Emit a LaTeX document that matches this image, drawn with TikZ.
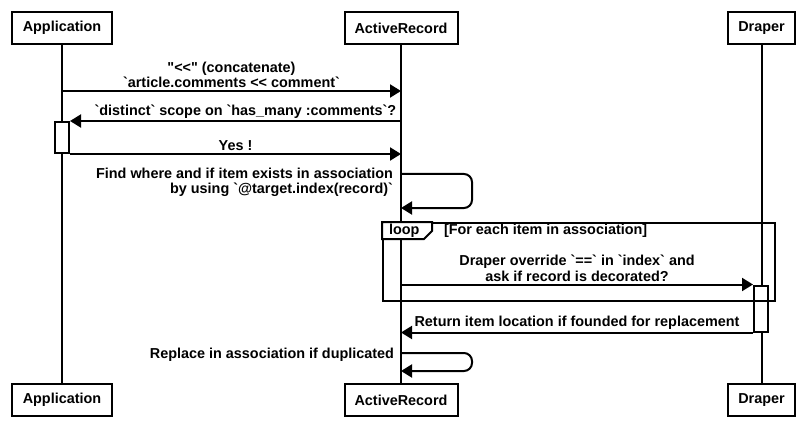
\documentclass[tikz,border=0pt]{standalone}
\usepackage{fontspec}
\newfontfamily\umlfont{Liberation Sans}
\usetikzlibrary{arrows.meta,calc,positioning}

\begin{document}
\begin{tikzpicture}[x=1pt,y=-1pt,line width=2pt,
    font=\umlfont\bfseries\fontsize{14.4}{15.5}\selectfont,
    actor/.style={draw,minimum height=32pt,inner sep=0pt},
    activ/.style={draw,fill=white,minimum width=14pt,inner sep=0pt},
    msg/.style={-{Triangle[length=11pt,width=13pt]}},
    lbl/.style={above,inner sep=2pt,align=center}]
    \useasboundingbox (0,0) rectangle (808,422);

    % participants
    \node[actor,minimum width=100pt] (app) at (62,28) {Application};
    \node[actor,minimum width=113pt] (ar) at (401,28) {ActiveRecord};
    \node[actor,minimum width=67pt] (dr) at (761.5,28) {Draper};
    \node[actor,minimum width=100pt] (appB) at (62,400) {Application};
    \node[actor,minimum width=113pt] (arB) at (401,400) {ActiveRecord};
    \node[actor,minimum width=67pt] (drB) at (761.5,400) {Draper};

    \draw (app) -- (appB);
    \draw (ar) -- (arB);
    \draw (dr) -- (drB);

    % activations
    \node[activ,minimum height=31pt] (appAct) at (62,137.5) {};
    \node[activ,minimum height=46pt] (drAct) at (761,308.5) {};

    % loop frame
    \node[draw,minimum width=392pt,minimum height=78pt,inner sep=0pt,anchor=north west] (loop) at (382,222) {};
    \filldraw[fill=white] (loop.north west) -- ++(50,0) -- ++(0,9) -- ++(-8,8) -- ++(-42,0) -- cycle;
    \node[anchor=west,inner sep=0pt] (looptag) at ($(loop.north west)+(6,9)$) {loop};
    \node[anchor=west,inner sep=0pt] (guard) at ($(loop.north west)+(61,9)$) {[For each item in association]};

    % message rows
    \coordinate (y1) at (0,91);
    \coordinate (s1t) at (0,174);
    \coordinate (s1b) at (0,208);
    \coordinate (s2t) at (0,353);
    \coordinate (s2b) at (0,371);

    \draw[msg] (app |- y1) -- node[lbl] {"<<" (concatenate)\\`article.comments << comment`} (ar |- y1);
    \draw[msg] (ar |- appAct.north) -- node[lbl,pos=0.47] {`distinct` scope on `has\_many :comments`?} (appAct.north east);
    \draw[msg] (appAct.south east) -- node[lbl] {Yes !} (ar |- appAct.south);

    \draw[msg,rounded corners=8pt] (ar |- s1t) -- ++(71,0) |- (ar |- s1b);
    \node[anchor=north east,inner sep=0pt,align=right] (find) at ($(ar |- s1t)+(-7,-7)$) {Find where and if item exists in association\\by using `@target.index(record)`};

    \draw[msg] (ar |- drAct.north) -- node[lbl] {Draper override `==` in `index` and\\ask if record is decorated?} (drAct.north west);
    \draw[msg] (drAct.south west) -- node[lbl] {Return item location if founded for replacement} (ar |- drAct.south);

    \draw[msg,rounded corners=8pt] (ar |- s2t) -- ++(71,0) |- (ar |- s2b);
    \node[anchor=north east,inner sep=0pt] (replace) at ($(ar |- s2t)+(-6,-6)$) {Replace in association if duplicated};
\end{tikzpicture}
\end{document}
